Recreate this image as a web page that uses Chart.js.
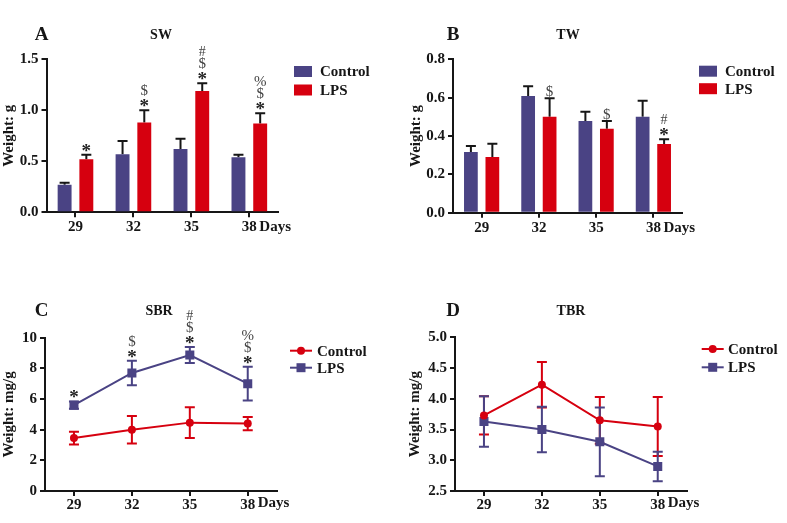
<!DOCTYPE html>
<html>
<head>
<meta charset="utf-8">
<script src="https://cdn.jsdelivr.net/npm/chart.js@4.4.0/dist/chart.umd.min.js"></script>
<style>
  body { margin: 0; background: #fff; width: 787px; height: 523px; position: relative; overflow: hidden; }
  canvas { position: absolute; }
</style>
</head>
<body>
<canvas id="chartA" width="390" height="250" style="left:0;top:0"></canvas>
<canvas id="chartB" width="387" height="250" style="left:400px;top:0"></canvas>
<canvas id="chartC" width="390" height="263" style="left:0;top:260px"></canvas>
<canvas id="chartD" width="387" height="263" style="left:400px;top:260px"></canvas>
<script>
const days = ["29", "32", "35", "38"];

// A - SW
const swControl = [0.27, 0.57, 0.62, 0.54];
const swControlErr = [0.02, 0.13, 0.10, 0.025];
const swLps = [0.52, 0.88, 1.19, 0.87];
const swLpsErr = [0.045, 0.12, 0.075, 0.10];
const swMarks = [["*"], ["*", "$"], ["*", "$", "#"], ["*", "$", "%"]];
const swAxis = [0, 1.5, 0.5];

// B - TW
const twControl = [0.317, 0.608, 0.478, 0.50];
const twControlErr = [0.031, 0.051, 0.048, 0.084];
const twLps = [0.29, 0.50, 0.438, 0.358];
const twLpsErr = [0.07, 0.097, 0.04, 0.025];
const twMarks = [[], ["$"], ["$"], ["*", "#"]];
const twAxis = [0, 0.8, 0.2];

// C - SBR
const sbrControl = [3.45, 4.0, 4.46, 4.4];
const sbrControlErr = [0.42, 0.9, 1.0, 0.43];
const sbrLps = [5.6, 7.7, 8.87, 7.0];
const sbrLpsErr = [0.24, 0.8, 0.52, 1.1];
const sbrMarks = [["*"], ["*", "$"], ["*", "$", "#"], ["*", "$", "%"]];
const sbrAxis = [0, 10, 2];

// D - TBR
const tbrControl = [3.73, 4.23, 3.65, 3.55];
const tbrControlErr = [0.31, 0.37, 0.38, 0.48];
const tbrLps = [3.63, 3.5, 3.3, 2.9];
const tbrLpsErr = [0.41, 0.37, 0.56, 0.24];
const tbrAxis = [2.5, 5.0, 0.5];

const BLUE = "#4a4384";
const RED = "#d6000f";
const INK = "#161616";
const SERIF = '"Liberation Serif", "Times New Roman", serif';

// error bars, drawn through the y scale
const errorBars = {
  id: "errorBars",
  beforeDatasetsDraw(chart) {
    const ctx = chart.ctx;
    const y = chart.scales.y;
    chart.data.datasets.forEach((ds, i) => {
      if (!ds.errors) return;
      const meta = chart.getDatasetMeta(i);
      ctx.save();
      ctx.strokeStyle = ds.errorColor;
      ctx.lineWidth = 2;
      meta.data.forEach((el, j) => {
        const v = ds.data[j], e = ds.errors[j];
        const top = y.getPixelForValue(v + e);
        const bot = ds.bothSides ? y.getPixelForValue(v - e) : el.y;
        ctx.beginPath();
        ctx.moveTo(el.x, bot);
        ctx.lineTo(el.x, top);
        ctx.moveTo(el.x - 5, top);
        ctx.lineTo(el.x + 5, top);
        if (ds.bothSides) {
          ctx.moveTo(el.x - 5, bot);
          ctx.lineTo(el.x + 5, bot);
        }
        ctx.stroke();
      });
      ctx.restore();
    });
  }
};

// significance symbols stacked above the LPS error bars
const markFonts = { "*": "bold 19px ", "$": "15px ", "#": "14px ", "%": "15px " };
const sigMarks = {
  id: "sigMarks",
  afterDatasetsDraw(chart, args, opts) {
    if (!opts.marks) return;
    const ctx = chart.ctx;
    const ds = chart.data.datasets[opts.dataset];
    const meta = chart.getDatasetMeta(opts.dataset);
    ctx.save();
    ctx.textAlign = "center";
    ctx.textBaseline = "alphabetic";
    meta.data.forEach((el, j) => {
      let cy = chart.scales.y.getPixelForValue(ds.data[j] + ds.errors[j]) - 7;
      opts.marks[j].forEach((s, k) => {
        if (k > 0) cy -= (k === 1 ? 13 : 12);
        ctx.font = markFonts[s] + SERIF;
        ctx.fillStyle = s === "*" ? "#222" : "#444";
        const m = ctx.measureText(s);
        const base = cy + (m.actualBoundingBoxAscent - m.actualBoundingBoxDescent) / 2;
        ctx.fillText(s, el.x, base);
      });
    });
    ctx.restore();
  }
};

// panel letter, title, "Days" and legend
const panelText = {
  id: "panelText",
  afterDraw(chart, args, o) {
    const ctx = chart.ctx;
    ctx.save();
    ctx.fillStyle = INK;
    ctx.textBaseline = "middle";
    ctx.textAlign = "center";
    ctx.font = "bold 19px " + SERIF;
    ctx.fillText(o.letter, o.letterX, o.headY);
    ctx.font = "bold 14px " + SERIF;
    ctx.fillText(o.title, o.titleX, o.headY);

    const xs = chart.scales.x;
    ctx.textAlign = "left";
    ctx.font = "bold 15px " + SERIF;
    ctx.fillText("Days", xs.getPixelForValue(3) + 10, chart.chartArea.bottom + o.daysDy);

    o.legend.forEach((item, i) => {
      const cy = o.legY + i * o.legDy;
      if (item.kind === "box") {
        ctx.fillStyle = item.color;
        ctx.fillRect(o.legX, cy - 5.5, 18, 11);
      } else {
        ctx.strokeStyle = item.color;
        ctx.fillStyle = item.color;
        ctx.lineWidth = 2;
        ctx.beginPath();
        ctx.moveTo(o.legX, cy);
        ctx.lineTo(o.legX + 22, cy);
        ctx.stroke();
        ctx.beginPath();
        if (item.kind === "circle") ctx.arc(o.legX + 11, cy, 4, 0, Math.PI * 2);
        else ctx.rect(o.legX + 6.5, cy - 4.5, 9, 9);
        ctx.fill();
      }
      ctx.fillStyle = INK;
      ctx.font = "bold 15px " + SERIF;
      ctx.fillText(item.label, o.textX, cy + 1);
    });
    ctx.restore();
  }
};

function axisOptions(cfg) {
  const [min, max, step] = cfg.axis;
  const line = { display: true, color: INK, width: 2 };
  return {
    x: {
      offset: true,
      border: line,
      grid: { display: true, drawOnChartArea: false, drawTicks: true, tickLength: 5, offset: false, color: INK, lineWidth: 2 },
      ticks: { color: INK, padding: cfg.tickPad, font: { family: SERIF, size: 15, weight: "bold" } },
      afterFit: (s) => { s.height = cfg.xh; }
    },
    y: {
      min, max,
      border: line,
      grid: { display: true, drawOnChartArea: false, drawTicks: true, tickLength: 5, color: INK, lineWidth: 2 },
      ticks: {
        stepSize: step, color: INK, padding: 3,
        font: { family: SERIF, size: 15, weight: "bold" },
        callback: (v) => (cfg.decimals ? Number(v).toFixed(1) : v)
      },
      title: { display: true, text: cfg.yTitle, color: INK, padding: 0, font: { family: SERIF, size: 15, weight: "bold" } },
      afterFit: (s) => { s.width = cfg.yw; }
    }
  };
}

function buildChart(id, type, datasets, cfg) {
  return new Chart(document.getElementById(id), {
    type,
    data: { labels: days, datasets },
    options: {
      responsive: false,
      animation: false,
      layout: { padding: { left: cfg.pl, top: cfg.pt, right: cfg.pr, bottom: 0 } },
      scales: axisOptions(cfg),
      plugins: {
        legend: { display: false },
        tooltip: { enabled: false },
        sigMarks: { dataset: 1, marks: cfg.marks },
        panelText: cfg.text
      }
    },
    plugins: [errorBars, sigMarks, panelText]
  });
}

function barSet(label, data, errors, color) {
  return {
    label, data, errors,
    errorColor: INK,
    backgroundColor: color,
    borderWidth: 0,
    categoryPercentage: 0.75,
    barPercentage: 0.64
  };
}

function lineSet(label, data, errors, color, style, radius) {
  return {
    label, data, errors,
    bothSides: true,
    errorColor: color,
    borderColor: color,
    backgroundColor: color,
    borderWidth: 2,
    tension: 0,
    pointStyle: style,
    pointRadius: radius,
    pointBorderWidth: 0
  };
}

const barLegend = [
  { label: "Control", color: BLUE, kind: "box" },
  { label: "LPS", color: RED, kind: "box" }
];
const lineLegend = [
  { label: "Control", color: RED, kind: "circle" },
  { label: "LPS", color: BLUE, kind: "rect" }
];

buildChart("chartA", "bar", [
  barSet("Control", swControl, swControlErr, BLUE),
  barSet("LPS", swLps, swLpsErr, RED)
], {
  axis: swAxis, decimals: true, yTitle: "Weight: g", marks: swMarks,
  pl: 0, yw: 46.5, pt: 59.3, pr: 111.7, xh: 37.7, tickPad: 1,
  text: { letter: "A", letterX: 41.5, title: "SW", titleX: 161, headY: 35, daysDy: 15,
          legend: barLegend, legX: 294, legY: 71.5, legDy: 18.5, textX: 320 }
});

buildChart("chartB", "bar", [
  barSet("Control", twControl, twControlErr, BLUE),
  barSet("LPS", twLps, twLpsErr, RED)
], {
  axis: twAxis, decimals: true, yTitle: "Weight: g", marks: twMarks,
  pl: 7, yw: 46, pt: 59.3, pr: 105, xh: 37.3, tickPad: 1,
  text: { letter: "B", letterX: 53, title: "TW", titleX: 168, headY: 35, daysDy: 15,
          legend: barLegend, legX: 299, legY: 71.2, legDy: 17.5, textX: 325 }
});

buildChart("chartC", "line", [
  lineSet("Control", sbrControl, sbrControlErr, RED, "circle", 4),
  lineSet("LPS", sbrLps, sbrLpsErr, BLUE, "rect", 6.4)
], {
  axis: sbrAxis, decimals: false, yTitle: "Weight: mg/g", marks: sbrMarks,
  pl: 0, yw: 45, pt: 77.7, pr: 113.3, xh: 32, tickPad: 0,
  text: { letter: "C", letterX: 41.5, title: "SBR", titleX: 159, headY: 51.5, daysDy: 12.5,
          legend: lineLegend, legX: 290, legY: 90.7, legDy: 17, textX: 317 }
});

buildChart("chartD", "line", [
  lineSet("Control", tbrControl, tbrControlErr, RED, "circle", 4),
  lineSet("LPS", tbrLps, tbrLpsErr, BLUE, "rect", 6.4)
], {
  axis: tbrAxis, decimals: true, yTitle: "Weight: mg/g", marks: null,
  pl: 6, yw: 49, pt: 77.3, pr: 100.3, xh: 32, tickPad: 0,
  text: { letter: "D", letterX: 53, title: "TBR", titleX: 171, headY: 51.5, daysDy: 12.5,
          legend: lineLegend, legX: 301.7, legY: 89, legDy: 18.3, textX: 328 }
});
</script>
</body>
</html>
